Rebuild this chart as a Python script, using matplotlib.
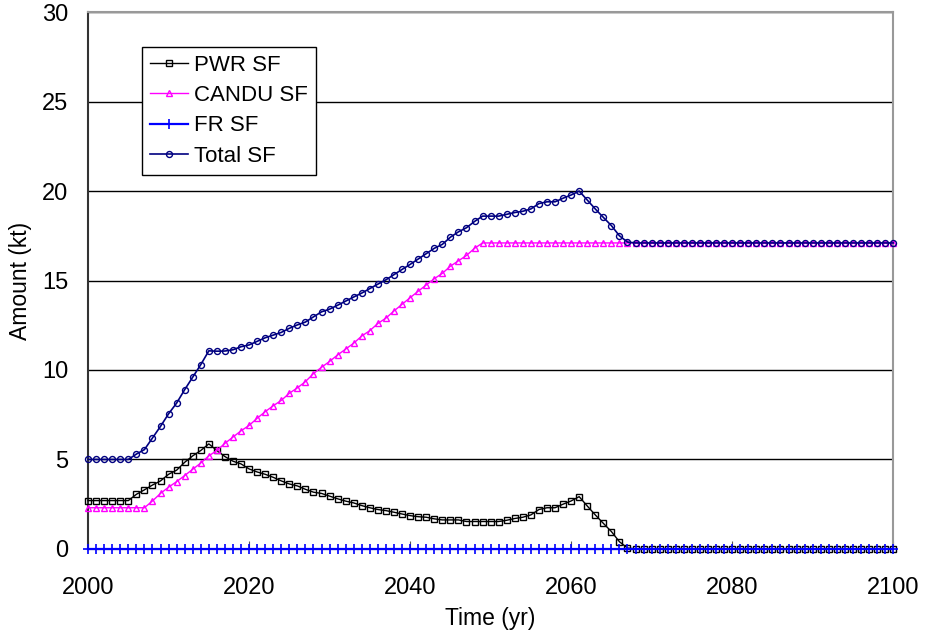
import matplotlib
matplotlib.use("Agg")
import matplotlib.pyplot as plt

plt.rcParams['font.family'] = ['Liberation Sans', 'DejaVu Sans']

# years, one point per year
years = list(range(2000, 2101))

# spent fuel inventories (kt)
pwr_sf = ([2.7] * 6 +
          [3.05, 3.3, 3.57, 3.8, 4.17, 4.4, 4.84, 5.2, 5.5, 5.87,
           5.5, 5.16, 4.9, 4.75, 4.47, 4.3, 4.17, 4.0, 3.8, 3.63,
           3.52, 3.33, 3.17, 3.1, 2.95, 2.8, 2.67, 2.57, 2.42, 2.3,
           2.2, 2.14, 2.05, 1.95, 1.86, 1.8, 1.77, 1.68, 1.62, 1.62,
           1.62, 1.53, 1.53, 1.53, 1.53, 1.53, 1.6, 1.7, 1.77, 1.9,
           2.2, 2.3, 2.3, 2.5, 2.68, 2.92, 2.4, 1.9, 1.43, 0.97,
           0.4, 0.05] +
          [0.0] * 33)

candu_sf = ([2.3] * 8 +
            [2.68, 3.1, 3.45, 3.76, 4.1, 4.45, 4.8, 5.2, 5.5, 5.9,
             6.25, 6.6, 6.9, 7.3, 7.67, 8.0, 8.3, 8.7, 9.0, 9.35,
             9.8, 10.15, 10.48, 10.84, 11.17, 11.5, 11.9, 12.2, 12.6, 12.9,
             13.3, 13.67, 14.04, 14.4, 14.75, 15.1, 15.4, 15.8, 16.1, 16.4,
             16.8] +
            [17.1] * 52)

fr_sf = [0.0] * 101

total_sf = ([5.0] * 6 +
            [5.3, 5.55, 6.2, 6.85, 7.55, 8.15, 8.9, 9.6, 10.3, 11.07,
             11.05, 11.06, 11.13, 11.3, 11.4, 11.6, 11.8, 11.95, 12.1, 12.33,
             12.52, 12.68, 12.97, 13.25, 13.4, 13.62, 13.85, 14.08, 14.3, 14.55,
             14.8, 15.04, 15.33, 15.62, 15.9, 16.2, 16.5, 16.8, 17.02, 17.42,
             17.72, 17.95, 18.3, 18.6, 18.6, 18.6, 18.7, 18.8, 18.87, 19.0,
             19.3, 19.4, 19.4, 19.6, 19.78, 20.0, 19.5, 19.0, 18.53, 18.07,
             17.5, 17.15] +
            [17.1] * 33)

fig = plt.figure(figsize=(9.27, 6.39), dpi=100)
ax = fig.add_axes([0.095, 0.141, 0.8685, 0.840])

ms = 4.3
ax.plot(years, pwr_sf, '-s', color='black', lw=1.0, ms=ms, mfc='none', mew=1.0,
        label='PWR SF', clip_on=False, zorder=3)
ax.plot(years, candu_sf, '-^', color='#ff00ff', lw=1.0, ms=ms + 0.5, mfc='none', mew=1.0,
        label='CANDU SF', clip_on=False, zorder=3)
ax.plot(years, fr_sf, '-+', color='#0000ff', lw=1.6, ms=6.5, mew=1.2,
        label='FR SF', clip_on=False, zorder=4)
ax.plot(years, total_sf, '-o', color='#000080', lw=1.2, ms=ms, mfc='none', mew=1.0,
        label='Total SF', clip_on=False, zorder=3)

ax.set_xlim(2000, 2100)
ax.set_ylim(0, 30)
ax.set_xticks(range(2000, 2101, 20))
ax.set_yticks(range(0, 31, 5))

# horizontal grid only
ax.yaxis.grid(True, color='black', lw=1.0)
ax.set_axisbelow(True)

ax.tick_params(axis='x', direction='in', length=6, color='#555555', labelsize=17, pad=20)
ax.tick_params(axis='y', direction='in', length=0, labelsize=17, pad=14)

ax.spines['left'].set_color('#333333')
ax.spines['left'].set_linewidth(1.5)
for side in ['top', 'right']:
    ax.spines[side].set_color('#999999')
    ax.spines[side].set_linewidth(1.5)
ax.spines['bottom'].set_color('#333333')

ax.set_xlabel('Time (yr)', fontsize=16.5, labelpad=6)
ax.set_ylabel('Amount (kt)', fontsize=16.5)
ax.yaxis.set_label_coords(-0.07, 0.5)

leg = ax.legend(loc='upper left', bbox_to_anchor=(0.067, 0.935), fontsize=16,
                frameon=True, fancybox=False, edgecolor='black', framealpha=1,
                handlelength=1.7, handletextpad=0.3, labelspacing=0.42,
                borderpad=0.35, borderaxespad=0)
leg.get_frame().set_linewidth(1.0)

fig.savefig('out.png', dpi=100)
